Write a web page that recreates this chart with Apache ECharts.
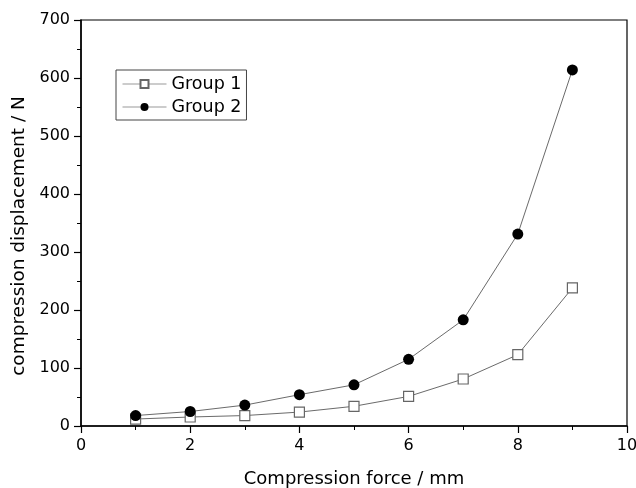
<!DOCTYPE html>
<html>
<head>
<meta charset="utf-8">
<script src="https://cdn.jsdelivr.net/npm/echarts@6/dist/echarts.min.js"></script>
<style>
  body { margin: 0; background: #fff; }
  #main { width: 636px; height: 488px; }
</style>
</head>
<body>
<div id="main"></div>
<script type="text/javascript">
    // data
    var forceX = [1, 2, 3, 4, 5, 6, 7, 8, 9];
    var group1 = [12, 15.5, 18, 24, 34, 51, 81, 123, 238];
    var group2 = [18, 25, 36, 54, 71, 115, 183, 331, 614];

    function pairs(ys) {
        return forceX.map(function (x, i) { return [x, ys[i]]; });
    }

    var myChart = echarts.init(document.getElementById('main'));
    var font = 'DejaVu Sans, sans-serif';

    var option = {
        backgroundColor: '#fff',
        animation: false,
        grid: {
            left: 81, right: 9, top: 20, bottom: 62,
            outerBoundsMode: 'none',
            containLabel: false,
            show: true, borderColor: '#000', borderWidth: 1.2
        },
        legend: {
            orient: 'vertical',
            left: 116, top: 70,
            padding: [4, 5, 3, 6],
            itemGap: 3,
            itemWidth: 44, itemHeight: 10,
            borderColor: '#444', borderWidth: 1,
            lineStyle: { color: '#999', width: 1 },
            textStyle: { fontFamily: font, fontSize: 17.5, lineHeight: 20, color: '#000' },
            data: ['Group 1', 'Group 2']
        },
        xAxis: {
            type: 'value',
            min: 0, max: 10, interval: 2,
            name: 'Compression force / mm',
            nameLocation: 'middle',
            nameGap: 44,
            nameTextStyle: { fontFamily: font, fontSize: 18, color: '#000' },
            axisLine: { lineStyle: { color: '#000', width: 1.5 } },
            axisTick: { length: 7, lineStyle: { color: '#000', width: 1.2 } },
            minorTick: { show: true, splitNumber: 2, length: 4, lineStyle: { color: '#000' } },
            axisLabel: { fontFamily: font, fontSize: 16, color: '#000', margin: 12 },
            splitLine: { show: false }
        },
        yAxis: {
            type: 'value',
            min: 0, max: 700, interval: 100,
            name: 'compression displacement / N',
            nameLocation: 'middle',
            nameGap: 52,
            nameTextStyle: { fontFamily: font, fontSize: 18.5, color: '#000', padding: [0, 26, 0, 0] },
            axisLine: { show: true, lineStyle: { color: '#000', width: 1.5 } },
            axisTick: { show: true, length: 7, lineStyle: { color: '#000', width: 1.2 } },
            minorTick: { show: true, splitNumber: 2, length: 4, lineStyle: { color: '#000' } },
            axisLabel: { fontFamily: font, fontSize: 16, color: '#000', margin: 11 },
            splitLine: { show: false }
        },
        series: [{
            name: 'Group 1',
            type: 'line',
            data: pairs(group1),
            symbol: 'rect',
            symbolSize: 10,
            lineStyle: { color: '#444', width: 0.8 },
            itemStyle: { color: '#fff', borderColor: '#666', borderWidth: 1.2 }
        }, {
            name: 'Group 2',
            type: 'line',
            data: pairs(group2),
            symbol: 'circle',
            symbolSize: 11,
            lineStyle: { color: '#444', width: 0.8 },
            itemStyle: { color: '#000' }
        }]
    };

    myChart.setOption(option);
</script>
</body>
</html>
